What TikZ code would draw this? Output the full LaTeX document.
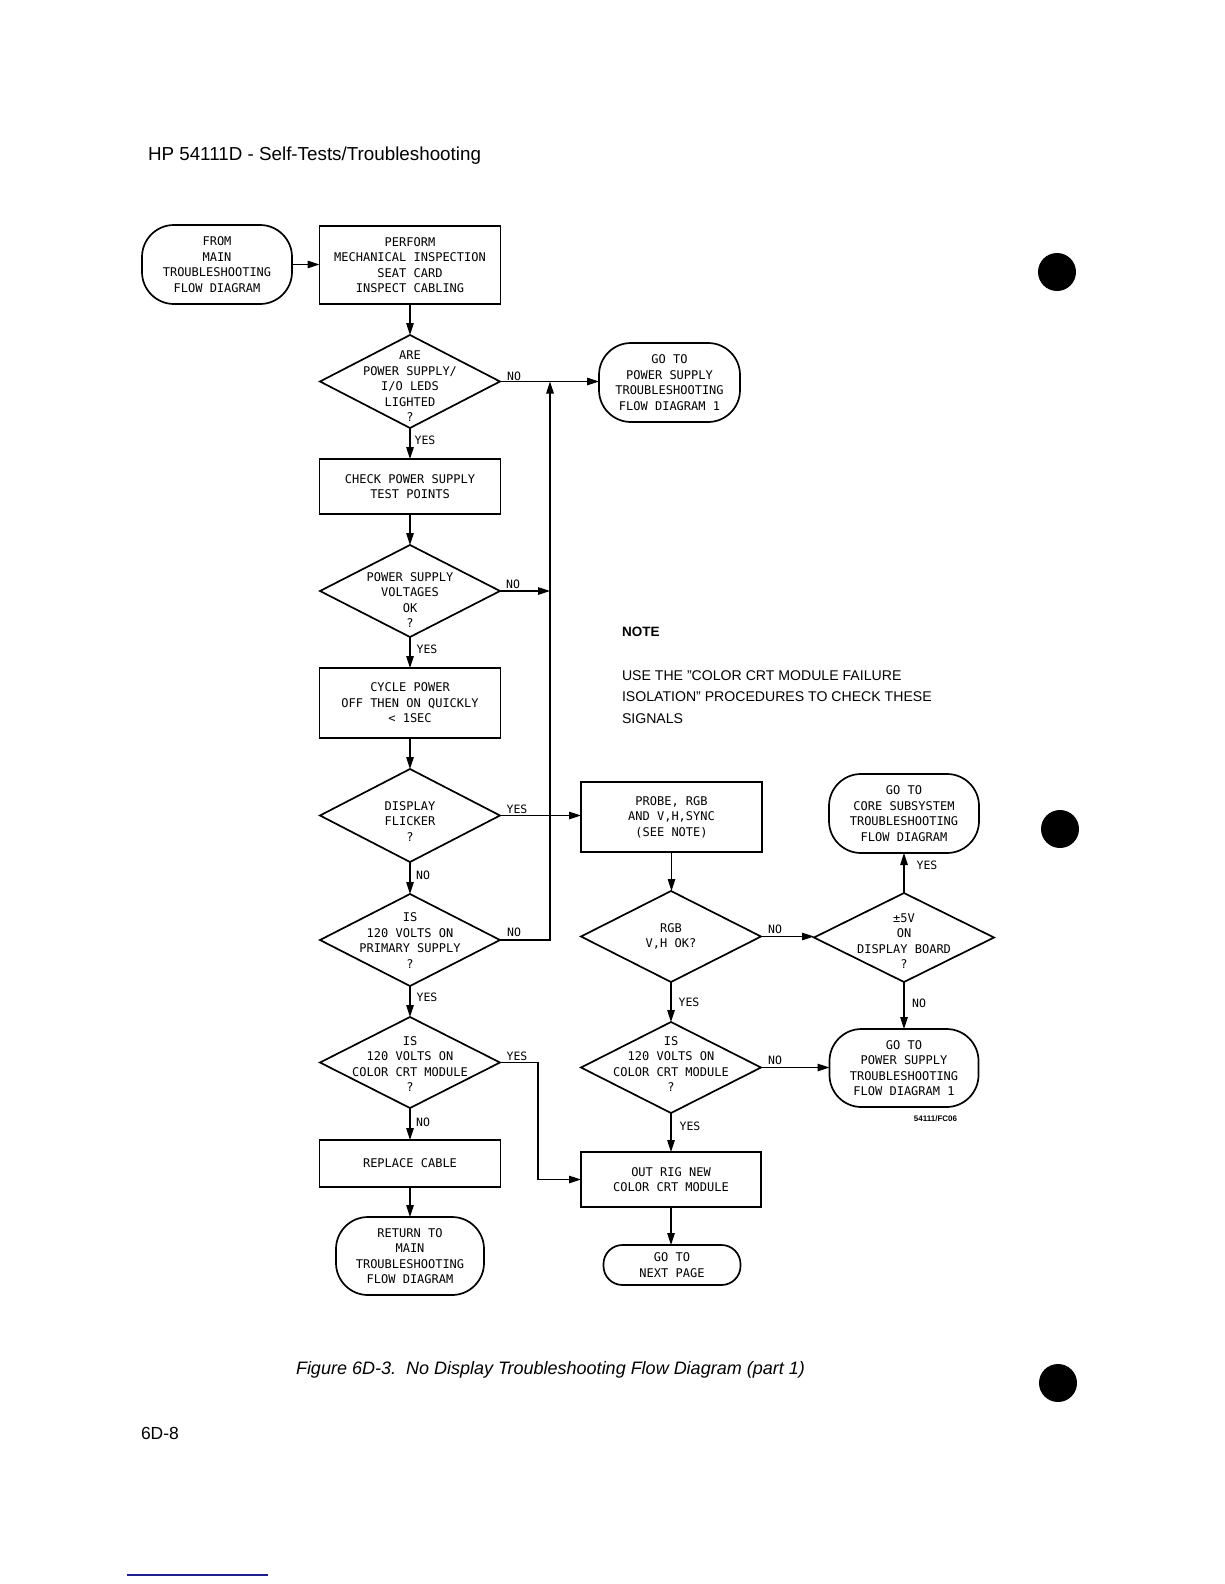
\documentclass[tikz,border=0pt]{standalone}
\usepackage{fontspec}
\setmainfont{Liberation Sans}
\newfontfamily\plotfont{DejaVu Sans Mono}
\usetikzlibrary{shapes.geometric,arrows.meta}
\begin{document}
\begin{tikzpicture}[x=1pt,y=-1pt,
  every node/.style={inner sep=0pt, outer sep=0pt},
  shp/.style={draw, line width=1.7pt, font=\plotfont\fontsize{12}{15.5}\selectfont, align=center},
  procbox/.style={shp, rectangle, minimum width=181pt},
  term/.style={shp, rectangle, rounded corners=32pt},
  dia/.style={draw, line width=1.7pt, diamond, minimum width=180pt, minimum height=92pt},
  dtext/.style={font=\plotfont\fontsize{12}{15.5}\selectfont, align=center},
  lbl/.style={font=\plotfont\fontsize{11.5}{13}\selectfont},
  conn/.style={line width=1.1pt, -{Triangle[length=12pt,width=7.5pt]}},
  plain/.style={line width=1.1pt}
]
\useasboundingbox (0,0) rectangle (1224,1584);
\fill[white] (0,0) rectangle (1224,1584);

% page furniture
\node[anchor=west, font=\fontsize{18.8}{21}\selectfont] (hdr) at (148,156) {HP 54111D - Self-Tests/Troubleshooting};
\node[anchor=west, font=\itshape\fontsize{18}{20}\selectfont] (cap) at (296,1370) {Figure 6D-3.\ \ No Display Troubleshooting Flow Diagram (part 1)};
\node[anchor=west, font=\fontsize{17.5}{19}\selectfont] (pg) at (141,1433) {6D-8};
\node[font=\bfseries\fontsize{8}{9}\selectfont] (fig) at (935.5,1119) {54111/FC06};
\fill[black] (1057,272) circle (19);
\fill[black] (1060,829) circle (19);
\fill[black] (1058,1383) circle (19);
\draw[line width=2pt, color={rgb,255:red,30;green,30;blue,140}] (127,1575) -- (268,1575);

% note
\node[anchor=west, font=\bfseries\fontsize{13.5}{15}\selectfont] (note) at (622,632) {NOTE};
\node[anchor=west, align=left, font=\fontsize{14.1}{21.5}\selectfont] (notebody) at (622,697)
  {USE THE "COLOR CRT MODULE FAILURE\\ISOLATION" PROCEDURES TO CHECK THESE\\SIGNALS};

% left column
\node[term, minimum width=150pt, minimum height=79pt] (start) at (217,264.5) {FROM\\MAIN\\TROUBLESHOOTING\\FLOW DIAGRAM};
\node[procbox, minimum height=78pt] (box1) at (410,265) {PERFORM\\MECHANICAL INSPECTION\\SEAT CARD\\INSPECT CABLING};
\node[dia, minimum height=93pt] (d1) at (410,381.5) {};
\node[dtext] (d1t) at (410,386.5) {ARE\\POWER SUPPLY/\\I/O LEDS\\LIGHTED\\?};
\node[procbox, minimum height=55pt] (box2) at (410,486.5) {CHECK POWER SUPPLY\\TEST POINTS};
\node[dia] (d2) at (410,591) {};
\node[dtext] (d2t) at (410,600) {POWER SUPPLY\\VOLTAGES\\OK\\?};
\node[procbox, minimum height=70pt] (box3) at (410,703) {CYCLE POWER\\OFF THEN ON QUICKLY\\< 1SEC};
\node[dia, minimum height=93pt] (d3) at (410,815.5) {};
\node[dtext] (d3t) at (410,821.5) {DISPLAY\\FLICKER\\?};
\node[dia] (d4) at (410,940) {};
\node[dtext] (d4t) at (410,940.5) {IS\\120 VOLTS ON\\PRIMARY SUPPLY\\?};
\node[dia, minimum height=91pt] (d5) at (410,1062.5) {};
\node[dtext] (d5t) at (410,1064) {IS\\120 VOLTS ON\\COLOR CRT MODULE\\?};
\node[procbox, minimum height=47pt] (repl) at (410,1163.5) {REPLACE CABLE};
\node[term, minimum width=148pt, minimum height=78pt] (ret) at (410,1256) {RETURN TO\\MAIN\\TROUBLESHOOTING\\FLOW DIAGRAM};

% right side
\node[term, minimum width=141pt, minimum height=79pt] (ps1) at (669.5,382.5) {GO TO\\POWER SUPPLY\\TROUBLESHOOTING\\FLOW DIAGRAM 1};
\node[procbox, minimum height=70pt] (probe) at (671.5,817) {PROBE, RGB\\AND V,H,SYNC\\(SEE NOTE)};
\node[dia, minimum height=91pt] (d6) at (671,936.5) {};
\node[dtext] (d6t) at (671,936.5) {RGB\\V,H OK?};
\node[dia, minimum height=89pt] (d7) at (904,937.5) {};
\node[dtext] (d7t) at (904,941) {±5V\\ON\\DISPLAY BOARD\\?};
\node[term, minimum width=150pt, minimum height=79pt] (core) at (904,813.5) {GO TO\\CORE SUBSYSTEM\\TROUBLESHOOTING\\FLOW DIAGRAM};
\node[term, minimum width=149pt, minimum height=78pt] (ps2) at (904,1068) {GO TO\\POWER SUPPLY\\TROUBLESHOOTING\\FLOW DIAGRAM 1};
\node[dia, minimum height=91pt] (d8) at (671,1067.5) {};
\node[dtext] (d8t) at (671,1064) {IS\\120 VOLTS ON\\COLOR CRT MODULE\\?};
\node[procbox, minimum width=180pt, minimum height=55pt] (outrig) at (671,1179.5) {OUT RIG NEW\\COLOR CRT MODULE};
\node[term, rounded corners=19pt, minimum width=137pt, minimum height=40pt] (next) at (672,1265) {GO TO\\NEXT PAGE};

% junction coordinates
\coordinate (j1) at (550,381.5);
\coordinate (j2) at (550,591);
\coordinate (j3) at (538,1062.5);

% connectors
\draw[conn] (start.east) -- (start.east -| box1.west);
\draw[conn] (box1.south) -- (d1.north);
\draw[conn] (d1.east) -- (d1.east -| ps1.west);
\draw[conn] (d1.south) -- (box2.north);
\draw[conn] (box2.south) -- (d2.north);
\draw[conn] (d2.east) -- (j2);
\draw[conn] (d2.south) -- (box3.north);
\draw[conn] (box3.south) -- (d3.north);
\draw[conn] (d3.east) -- (d3.east -| probe.west);
\draw[conn] (d3.south) -- (d4.north);
\draw[conn] (d4.east) -| (j1);
\draw[conn] (d4.south) -- (d5.north);
\draw[conn] (d5.east) -- (j3) |- (outrig.west);
\draw[conn] (d5.south) -- (repl.north);
\draw[conn] (repl.south) -- (ret.north);
\draw[conn] (probe.south) -- (probe.south |- d6.north);
\draw[conn] (d6.east) -- (d6.east -| d7.west);
\draw[conn] (d6.south) -- (d6.south |- d8.north);
\draw[conn] (d7.north) -- (d7.north |- core.south);
\draw[conn] (d7.south) -- (d7.south |- ps2.north);
\draw[conn] (d8.east) -- (d8.east -| ps2.west);
\draw[conn] (d8.south) -- (d8.south |- outrig.north);
\draw[conn] (outrig.south) -- (outrig.south |- next.north);

% connector labels
\node[lbl] (l1n) at (514,376) {NO};
\node[lbl] (l1y) at (425,440) {YES};
\node[lbl] (l2n) at (513,584) {NO};
\node[lbl] (l2y) at (427,649) {YES};
\node[lbl] (l3y) at (517,809) {YES};
\node[lbl] (l3n) at (423,875) {NO};
\node[lbl] (l4n) at (514,932) {NO};
\node[lbl] (l4y) at (427,997) {YES};
\node[lbl] (l5y) at (517,1056) {YES};
\node[lbl] (l5n) at (423,1122) {NO};
\node[lbl] (l6n) at (775,929) {NO};
\node[lbl] (l6y) at (689,1002) {YES};
\node[lbl] (l7y) at (927,865) {YES};
\node[lbl] (l7n) at (919,1003) {NO};
\node[lbl] (l8n) at (775,1060) {NO};
\node[lbl] (l8y) at (690,1126) {YES};
\end{tikzpicture}
\end{document}
